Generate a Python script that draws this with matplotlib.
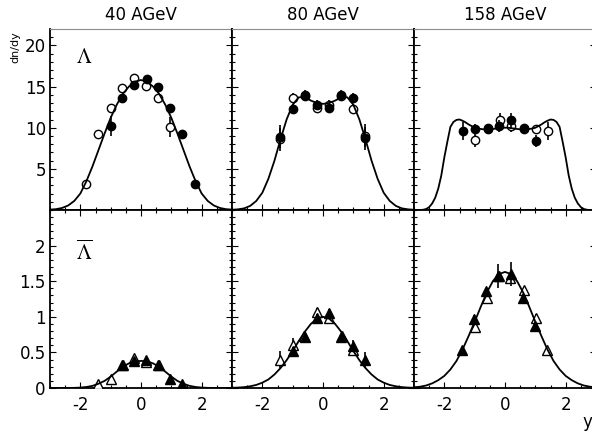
import numpy as np
import matplotlib.pyplot as plt
from matplotlib.ticker import MultipleLocator, FixedLocator, FormatStrFormatter

plt.rcParams['font.family'] = 'DejaVu Sans'
plt.rcParams['axes.unicode_minus'] = False

energies = ['40 AGeV', '80 AGeV', '158 AGeV']

# ---- Lambda: measured (filled) and reflected (open) points ----
lam40_x = [-0.99, -0.61, -0.23, 0.19, 0.57, 0.97, 1.35, 1.79]
lam40_v = [10.2, 13.6, 15.2, 15.9, 14.9, 12.4, 9.2, 3.1]
lam40_e = [1.2, 0.5, 0.5, 0.5, 0.5, 0.5, 0.5, 0.3]
lam40_rx = [-1.81, -1.41, -0.99, -0.63, -0.23, 0.17, 0.57, 0.97]
lam40_rv = [3.1, 9.2, 12.4, 14.8, 16.0, 15.1, 13.6, 10.1]
lam40_re = [0.3, 0.5, 0.5, 0.5, 0.5, 0.5, 0.5, 1.2]

lam80_x = [-1.42, -1.0, -0.59, -0.21, 0.2, 0.58, 0.98, 1.38]
lam80_v = [8.9, 12.3, 13.8, 12.8, 12.4, 14.0, 13.6, 8.7]
lam80_e = [1.4, 0.6, 0.6, 0.6, 0.6, 0.6, 0.6, 1.4]
lam80_rx = [-1.42, -1.0, -0.59, -0.21, 0.2, 0.58, 0.98, 1.38]
lam80_rv = [8.6, 13.6, 14.0, 12.4, 12.8, 13.8, 12.3, 9.0]
lam80_re = [1.4, 0.6, 0.6, 0.6, 0.6, 0.6, 0.6, 1.4]

lam158_x = [-1.40, -0.98, -0.57, -0.19, 0.21, 0.62, 1.03]
lam158_v = [9.6, 9.9, 9.9, 10.2, 10.9, 10.0, 8.4]
lam158_e = [1.1, 0.5, 0.5, 0.7, 0.9, 0.5, 0.7]
lam158_rx = [-0.98, -0.57, -0.18, 0.21, 0.62, 1.03, 1.43]
lam158_rv = [8.5, 10.0, 10.9, 10.2, 9.9, 9.8, 9.6]
lam158_re = [0.8, 0.5, 0.9, 0.7, 0.5, 0.5, 1.1]

# ---- anti-Lambda ----
alam40_x = [-0.61, -0.23, 0.17, 0.57, 0.97, 1.35]
alam40_v = [0.32, 0.38, 0.39, 0.33, 0.13, 0.05]
alam40_e = [0.02, 0.02, 0.02, 0.02, 0.02, 0.02]
alam40_rx = [-1.41, -0.99, -0.59, -0.23, 0.15, 0.59]
alam40_rv = [0.06, 0.13, 0.33, 0.42, 0.37, 0.32]
alam40_re = [0.02, 0.02, 0.02, 0.02, 0.02, 0.02]

alam80_x = [-1.0, -0.59, -0.21, 0.2, 0.61, 0.98, 1.38]
alam80_v = [0.52, 0.71, 0.99, 1.06, 0.73, 0.59, 0.39]
alam80_e = [0.05, 0.05, 0.05, 0.05, 0.05, 0.09, 0.11]
alam80_rx = [-1.41, -1.0, -0.61, -0.21, 0.2, 0.59, 0.98]
alam80_rv = [0.40, 0.61, 0.73, 1.07, 0.99, 0.71, 0.53]
alam80_re = [0.12, 0.09, 0.05, 0.05, 0.05, 0.05, 0.05]

alam158_x = [-1.43, -1.01, -0.62, -0.23, 0.21, 0.6, 0.98]
alam158_v = [0.53, 0.97, 1.36, 1.57, 1.60, 1.27, 0.87]
alam158_e = [0.04, 0.05, 0.05, 0.17, 0.17, 0.05, 0.05]
alam158_rx = [-0.98, -0.6, -0.2, 0.15, 0.62, 1.02, 1.37]
alam158_rv = [0.86, 1.26, 1.58, 1.55, 1.37, 0.99, 0.53]
alam158_re = [0.05, 0.05, 0.05, 0.05, 0.05, 0.05, 0.04]

# ---- model curves ----
curve_y = np.linspace(-3, 3, 31)
lam40_model = [0.05, 0.1, 0.25, 0.55, 1.1, 2.0, 3.5, 5.3, 7.3, 9.3, 11.2,
               12.8, 14.1, 15.0, 15.6, 15.8, 15.6, 15.0, 14.1, 12.8, 11.2,
               9.3, 7.3, 5.3, 3.5, 2.0, 1.1, 0.55, 0.25, 0.1, 0.05]
lam80_model = [0.03, 0.08, 0.2, 0.5, 1.1, 2.1, 3.8, 6.0, 8.6, 11.0, 12.8,
               13.7, 13.7, 13.3, 13.0, 12.9, 13.0, 13.3, 13.7, 13.7, 12.8,
               11.0, 8.6, 6.0, 3.8, 2.1, 1.1, 0.5, 0.2, 0.08, 0.03]
alam40_model = [0.001, 0.001, 0.001, 0.001, 0.002, 0.006, 0.014, 0.03, 0.06,
                0.10, 0.16, 0.23, 0.30, 0.345, 0.375, 0.38, 0.375, 0.345,
                0.30, 0.23, 0.16, 0.10, 0.06, 0.03, 0.014, 0.006, 0.002,
                0.001, 0.001, 0.001, 0.001]
alam80_model = [0.003, 0.006, 0.012, 0.024, 0.043, 0.075, 0.12, 0.19, 0.28,
                0.39, 0.52, 0.66, 0.79, 0.90, 0.975, 1.0, 0.975, 0.90, 0.79,
                0.66, 0.52, 0.39, 0.28, 0.19, 0.12, 0.075, 0.043, 0.024,
                0.012, 0.006, 0.003]
alam158_model = [0.01, 0.018, 0.035, 0.065, 0.11, 0.17, 0.26, 0.38, 0.54,
                 0.73, 0.93, 1.14, 1.34, 1.50, 1.60, 1.63, 1.60, 1.50, 1.34,
                 1.14, 0.93, 0.73, 0.54, 0.38, 0.26, 0.17, 0.11, 0.065,
                 0.035, 0.018, 0.01]

# the 158 AGeV Lambda curve has steep edges, so it is sampled finer
curve_y_fine = np.linspace(-3, 3, 61)
lam158_model = [0.0, 0.0, 0.0, 0.03, 0.12, 0.35, 0.8, 1.5, 2.6, 4.2, 6.4,
                8.3, 10.1, 10.7, 10.95, 11.0, 10.85, 10.65, 10.4, 10.2, 10.0,
                9.9, 9.85, 9.8, 9.8, 9.8, 9.85, 9.9, 9.95, 10.0, 10.0,
                10.0, 9.95, 9.9, 9.85, 9.8, 9.8, 9.8, 9.85, 9.9, 10.0,
                10.2, 10.4, 10.65, 10.85, 11.0, 10.95, 10.7, 10.1, 8.3, 6.4,
                4.2, 2.6, 1.5, 0.8, 0.35, 0.12, 0.03, 0.0, 0.0, 0.0]

panels = [
    [(lam40_x, lam40_v, lam40_e, lam40_rx, lam40_rv, lam40_re, curve_y, lam40_model),
     (lam80_x, lam80_v, lam80_e, lam80_rx, lam80_rv, lam80_re, curve_y, lam80_model),
     (lam158_x, lam158_v, lam158_e, lam158_rx, lam158_rv, lam158_re, curve_y_fine, lam158_model)],
    [(alam40_x, alam40_v, alam40_e, alam40_rx, alam40_rv, alam40_re, curve_y, alam40_model),
     (alam80_x, alam80_v, alam80_e, alam80_rx, alam80_rv, alam80_re, curve_y, alam80_model),
     (alam158_x, alam158_v, alam158_e, alam158_rx, alam158_rv, alam158_re, curve_y, alam158_model)],
]

W, H = 592, 432
fig = plt.figure(figsize=(W / 100, H / 100), dpi=100)

col_left = [50, 232, 414]
panel_w = 182
row_top = [29, 210]
row_h = [181, 178]

for r in range(2):
    for c in range(3):
        ax = fig.add_axes([col_left[c] / W, 1 - (row_top[r] + row_h[r]) / H,
                           panel_w / W, row_h[r] / H])
        x, v, e, rx, rv, re, cx, cv = panels[r][c]
        mk = 'o' if r == 0 else '^'
        ms = 6 if r == 0 else 7.5

        # reflected points first, measured on top
        ax.errorbar(rx, rv, yerr=re, fmt=mk, ms=ms, mfc='white', mec='black',
                    mew=1.0, ecolor='black', elinewidth=1.2, capsize=0, zorder=3)
        ax.errorbar(x, v, yerr=e, fmt=mk, ms=ms, mfc='black', mec='black',
                    mew=1.0, ecolor='black', elinewidth=1.2, capsize=0, zorder=4)
        ax.plot(cx, cv, color='black', lw=1.3, zorder=5)

        ax.set_xlim(-3, 3)
        ax.xaxis.set_major_locator(MultipleLocator(2))
        ax.xaxis.set_minor_locator(MultipleLocator(0.5))
        if r == 0:
            ax.set_ylim(0, 22)
            ax.yaxis.set_major_locator(FixedLocator([5, 10, 15, 20]))
            ax.yaxis.set_minor_locator(MultipleLocator(1))
            ax.yaxis.set_major_formatter(FormatStrFormatter('%g'))
            ax.spines['top'].set_color('0.55')
            ax.spines['top'].set_linewidth(0.8)
        else:
            ax.set_ylim(0, 2.5)
            ax.yaxis.set_major_locator(FixedLocator([0, 0.5, 1, 1.5, 2]))
            ax.yaxis.set_minor_locator(MultipleLocator(0.1))
            ax.yaxis.set_major_formatter(FormatStrFormatter('%g'))

        for side in ['left', 'right', 'bottom'] + (['top'] if r == 1 else []):
            ax.spines[side].set_linewidth(1.3)

        ax.tick_params(which='both', direction='in', left=True, right=True,
                       bottom=True, top=(r == 1), width=0.8,
                       labelbottom=(r == 1), labelleft=(c == 0), labelsize=12)
        ax.tick_params(which='major', length=4.5)
        ax.tick_params(which='minor', length=2.5)
        ax.tick_params(axis='x', pad=6)
        ax.tick_params(axis='y', pad=3)

        if c == 0:
            if r == 0:
                ax.text(0.19, 0.845, r'$\Lambda$', transform=ax.transAxes,
                        fontsize=15, math_fontfamily='stix', ha='center', va='center')
            else:
                ax.text(0.19, 0.765, r'$\overline{\Lambda}$', transform=ax.transAxes,
                        fontsize=15, math_fontfamily='stix', ha='center', va='center')

for c in range(3):
    fig.text((col_left[c] + panel_w / 2) / W, 1 - 14.5 / H, energies[c],
             ha='center', va='center', fontsize=12)

fig.text(15 / W, 1 - 31 / H, 'dn/dy', rotation=90, ha='center', va='top', fontsize=8)
fig.text(582 / W, 1 - 422 / H, 'y', ha='left', va='center', fontsize=12)

fig.savefig('out.png', dpi=100)
